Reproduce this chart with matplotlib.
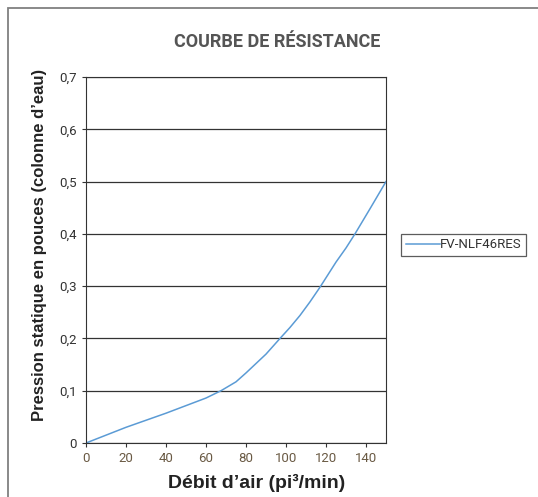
import matplotlib.pyplot as plt
from matplotlib.patches import Rectangle

# Données
debit = [0, 20, 40, 60, 67.5, 75, 80, 85, 90, 97, 102, 107, 112, 117, 121, 125, 130, 134.5, 142, 150]
pression = [0, 0.03, 0.057, 0.086, 0.1, 0.117, 0.134, 0.152, 0.17, 0.2, 0.221, 0.244, 0.27, 0.298,
            0.322, 0.346, 0.373, 0.4, 0.448, 0.5]
xticks = [0, 20, 40, 60, 80, 100, 120, 140]
yticks = [0, 0.1, 0.2, 0.3, 0.4, 0.5, 0.6, 0.7]
ylabels = ['0', '0,1', '0,2', '0,3', '0,4', '0,5', '0,6', '0,7']

W, H = 538, 497
fig = plt.figure(figsize=(W / 100, H / 100), dpi=100)

# cadre extérieur
fig.patches.append(Rectangle((8 / W, -0.1), 1.2, (H - 8) / H + 0.1, transform=fig.transFigure,
                             fill=False, edgecolor='#808080', linewidth=1.3))

ax = fig.add_axes([86 / W, (H - 443) / H, 300 / W, 366 / H])
ax.plot(debit, pression, color='#5b9bd5', linewidth=1.1, label='FV-NLF46RES')
ax.set_xlim(0, 150)
ax.set_ylim(0, 0.7)
ax.set_xticks(xticks)
ax.set_yticks(yticks)
ax.set_yticklabels(ylabels)
ax.grid(axis='y', color='#333333', linewidth=0.9)
for s in ax.spines.values():
    s.set_color('#333333')
ax.tick_params(axis='x', colors='#333333', labelcolor='#6a5a44', labelsize=9.5, length=3)
ax.tick_params(axis='y', colors='#333333', labelcolor='#333333', labelsize=9.5, length=3)
for t in ax.get_xticklabels() + ax.get_yticklabels():
    t.set_family(['Roboto', 'DejaVu Sans'])

ax.set_xlabel("Débit d’air (pi³/min)", fontsize=14, fontweight='bold', color='#222222',
              family=['Liberation Sans', 'DejaVu Sans'], va='center')
ax.xaxis.set_label_coords((257 - 86) / 300, -(483 - 443) / 366)
ax.set_ylabel("Pression statique en pouces (colonne d’eau)", fontsize=12, fontweight='bold',
              color='#222222', family=['Liberation Sans', 'DejaVu Sans'], va='center')
ax.yaxis.set_label_coords(-(86 - 40) / 300, (443 - 245) / 366)

fig.text(277 / W, 1 - 42 / H, 'COURBE DE RÉSISTANCE', ha='center', va='center', fontsize=13,
         fontweight='bold', color='#555555', family=['Roboto', 'DejaVu Sans'])

leg = ax.legend(loc='center left', bbox_to_anchor=(401 / W, 1 - 245 / H), bbox_transform=fig.transFigure,
                frameon=True, fancybox=False, edgecolor='#333333', fontsize=9.5, handlelength=2.6,
                handletextpad=0.0, borderpad=0.35, borderaxespad=0)
leg.get_frame().set_linewidth(0.9)
for t in leg.get_texts():
    t.set_family(['Roboto', 'DejaVu Sans'])
    t.set_color('#333333')

fig.savefig('out.png', dpi=100)
